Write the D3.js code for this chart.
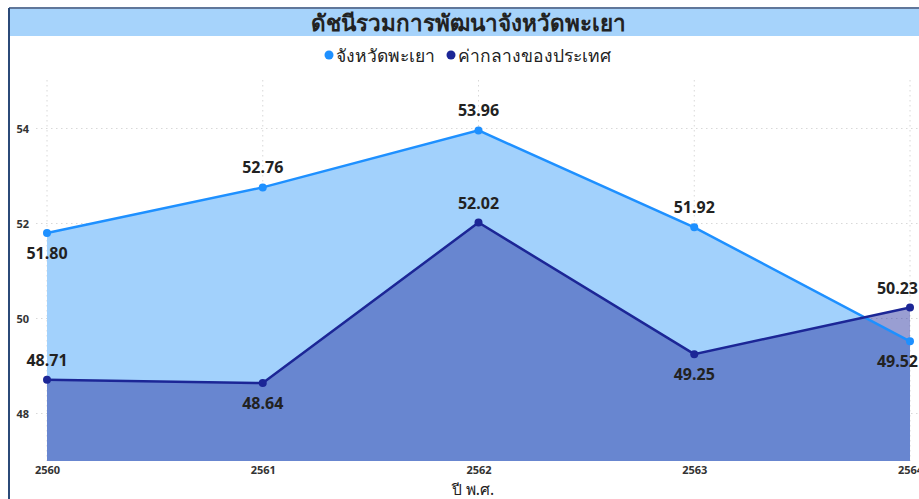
<!DOCTYPE html>
<html>
<head>
<meta charset="utf-8">
<script src="https://cdn.jsdelivr.net/npm/d3@7"></script>
<style>
  body { margin: 0; background: #fff; }
  text { font-family: "Noto Sans", "DejaVu Sans", sans-serif; }
</style>
</head>
<body>
<svg id="chart" width="919" height="499"></svg>
<script>
// data
const years = [2560, 2561, 2562, 2563, 2564];
const phayao = [51.80, 52.76, 53.96, 51.92, 49.52];
const national = [48.71, 48.64, 52.02, 49.25, 50.23];
const yTicks = [48, 50, 52, 54];
const seriesNames = ['จังหวัดพะเยา', 'ค่ากลางของประเทศ'];
// label placement: -1 above point, 1 below
const phayaoLabelPos = [1, -1, -1, -1, 1];
const nationalLabelPos = [-1, 1, -1, 1, -1];

const svg = d3.select('#chart');
const W = 919, H = 499;

const lightLine = '#1e90ff';
const lightFill = '#a2d1fc';
const darkLine = '#1c2696';
const darkFill = '#2a35a0';
const gridColor = '#d8d8d8';

// frame
svg.append('rect')
    .attr('x', 10).attr('y', 9)
    .attr('width', W - 10).attr('height', 27)
    .attr('fill', '#a6d3fb');
svg.append('line')
    .attr('x1', 9).attr('x2', W).attr('y1', 8).attr('y2', 8)
    .attr('stroke', '#2b4a78').attr('stroke-width', 1.5);
svg.append('line')
    .attr('x1', 9).attr('x2', 9).attr('y1', 8).attr('y2', H)
    .attr('stroke', '#2b4a78').attr('stroke-width', 2);

svg.append('text')
    .attr('x', 468).attr('y', 22)
    .attr('text-anchor', 'middle')
    .attr('dominant-baseline', 'central')
    .attr('font-size', 22.5)
    .attr('font-weight', 'bold')
    .attr('fill', '#222')
    .text('ดัชนีรวมการพัฒนาจังหวัดพะเยา');

// legend
const legend = svg.append('g').attr('transform', 'translate(0,55)');
const legendItems = [
  {name: seriesNames[0], color: lightLine, x: 329},
  {name: seriesNames[1], color: darkLine, x: 451}
];
legendItems.forEach(d => {
  legend.append('circle')
      .attr('cx', d.x).attr('cy', 0).attr('r', 4.5)
      .attr('fill', d.color);
  legend.append('text')
      .attr('x', d.x + 7).attr('y', 0)
      .attr('dominant-baseline', 'central')
      .attr('font-size', 17.5)
      .attr('fill', '#222')
      .text(d.name);
});

// scales
const x = d3.scaleLinear()
    .domain([2560, 2564])
    .range([47, 910]);

const y = d3.scaleLinear()
    .domain([47, 55])
    .range([461, 81]);

// grid
const grid = svg.append('g');
grid.selectAll('.y-grid-line')
  .data(yTicks)
  .join('line')
    .attr('class', 'y-grid-line')
    .attr('x1', 36).attr('x2', W)
    .attr('y1', d => y(d)).attr('y2', d => y(d))
    .attr('stroke', gridColor)
    .attr('stroke-dasharray', '1.5,3.5');
grid.selectAll('.x-grid-line')
  .data(years)
  .join('line')
    .attr('class', 'x-grid-line')
    .attr('x1', d => x(d)).attr('x2', d => x(d))
    .attr('y1', 80).attr('y2', 461)
    .attr('stroke', gridColor)
    .attr('stroke-dasharray', '1.5,3.5');

// areas
const area = d3.area()
    .x((d, i) => x(years[i]))
    .y0(y(47))
    .y1(d => y(d));

const line = d3.line()
    .x((d, i) => x(years[i]))
    .y(d => y(d));

svg.append('path')
    .datum(phayao)
    .attr('d', area)
    .attr('fill', lightFill);

svg.append('path')
    .datum(national)
    .attr('d', area)
    .attr('fill', darkFill)
    .attr('fill-opacity', 0.48);

svg.append('path')
    .datum(phayao)
    .attr('d', line)
    .attr('fill', 'none')
    .attr('stroke', lightLine)
    .attr('stroke-width', 2.5);

svg.append('path')
    .datum(national)
    .attr('d', line)
    .attr('fill', 'none')
    .attr('stroke', darkLine)
    .attr('stroke-width', 2.5);

svg.selectAll('.pt-light')
  .data(phayao)
  .join('circle')
    .attr('class', 'pt-light')
    .attr('cx', (d, i) => x(years[i]))
    .attr('cy', d => y(d))
    .attr('r', 4)
    .attr('fill', lightLine);

svg.selectAll('.pt-dark')
  .data(national)
  .join('circle')
    .attr('class', 'pt-dark')
    .attr('cx', (d, i) => x(years[i]))
    .attr('cy', d => y(d))
    .attr('r', 4)
    .attr('fill', darkLine);

// data labels, kept inside the right edge
function labels(values, pos, cls) {
  svg.selectAll('.' + cls)
    .data(values)
    .join('text')
      .attr('class', cls)
      .attr('y', (d, i) => y(d) + pos[i] * 20)
      .attr('text-anchor', 'middle')
      .attr('dominant-baseline', 'central')
      .attr('font-size', 16)
      .attr('font-weight', 'bold')
      .attr('fill', '#222')
      .text(d => d.toFixed(2))
      .attr('x', function(d, i) {
        const half = this.getComputedTextLength() / 2;
        return Math.min(x(years[i]), W - 1 - half);
      });
}
labels(phayao, phayaoLabelPos, 'lbl-light');
labels(national, nationalLabelPos, 'lbl-dark');

// axes
const yAxis = d3.axisLeft(y)
    .tickValues(yTicks)
    .tickSize(0)
    .tickPadding(0);

svg.append('g')
    .attr('transform', 'translate(29,0)')
    .call(yAxis)
    .call(g => g.select('.domain').remove())
    .call(g => g.selectAll('text')
        .attr('font-size', 11)
        .attr('font-weight', 'bold')
        .attr('fill', '#333'));

const xAxis = d3.axisBottom(x)
    .tickValues(years)
    .tickFormat(d3.format('d'))
    .tickSize(0)
    .tickPadding(5);

svg.append('g')
    .attr('transform', 'translate(0,461)')
    .call(xAxis)
    .call(g => g.select('.domain').remove())
    .call(g => g.selectAll('text')
        .attr('font-size', 11)
        .attr('font-weight', 'bold')
        .attr('fill', '#333'));

svg.append('text')
    .attr('x', 473).attr('y', 489)
    .attr('text-anchor', 'middle')
    .attr('dominant-baseline', 'central')
    .attr('font-size', 15.5)
    .attr('fill', '#222')
    .text('ปี พ.ศ.');
</script>
</body>
</html>
